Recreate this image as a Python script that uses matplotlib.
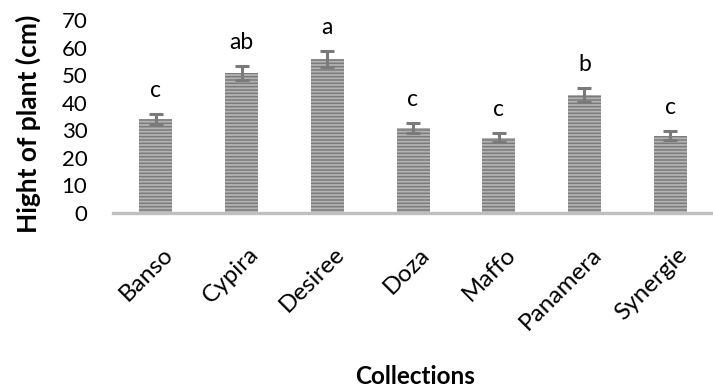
import matplotlib
matplotlib.use("Agg")
import matplotlib.pyplot as plt
import matplotlib.transforms as mtransforms
import numpy as np

plt.rcParams['font.family'] = ['Lato', 'DejaVu Sans']
plt.rcParams['hatch.linewidth'] = 1.3

collections = ["Banso", "Cypira", "Desiree", "Doza", "Maffo", "Panamera", "Synergie"]
height_cm = [34.1, 50.7, 55.8, 30.7, 27.3, 42.8, 28.0]
error_cm = [1.8, 2.5, 3.0, 1.8, 1.7, 2.4, 1.7]
letters = ["c", "ab", "a", "c", "c", "b", "c"]
yticks = [0, 10, 20, 30, 40, 50, 60, 70]

W, H = 713, 389
fig = plt.figure(figsize=(W / 100, H / 100), dpi=100)
ax = fig.add_axes([113 / W, (H - 213) / H, 1 - 113 / W, (213 - 20) / H])

x = np.arange(len(collections))
ax.bar(x, height_cm, width=0.385, color="#7b7b7b", edgecolor="#b3b3b3",
       hatch="-----", linewidth=0, zorder=2)
ax.errorbar(x, height_cm, yerr=error_cm, fmt="none", ecolor="#7a7a7a",
            elinewidth=2.2, capsize=4.8, capthick=2.2, zorder=3)

for xi, h, e, lab in zip(x, height_cm, error_cm, letters):
    ax.text(xi, h + e + 4.8, lab, ha="center", va="bottom", fontsize=16.5, color="black")

ax.set_xlim(-0.5, len(collections) - 0.5)
ax.set_ylim(0, 70)
ax.set_yticks(yticks)
ax.set_yticklabels([str(t) for t in yticks], fontsize=16)
ax.tick_params(axis="y", length=0, pad=18.5)
ax.set_xticks(x)
ax.set_xticklabels(collections, rotation=45, ha="right", va="top",
                   rotation_mode="anchor", fontsize=17.5)
ax.tick_params(axis="x", length=0, pad=22)
shift = mtransforms.ScaledTranslation(6 / 100, 0, fig.dpi_scale_trans)
for lbl in ax.get_xticklabels():
    lbl.set_transform(lbl.get_transform() + shift)

for side in ["top", "right", "left"]:
    ax.spines[side].set_visible(False)
ax.spines["bottom"].set_color("#bfbfbf")
ax.spines["bottom"].set_linewidth(2.4)

fig.text(28 / W, 1 - 124 / H, "Hight of plant (cm)", rotation=90, ha="center",
         va="center", fontsize=19, fontweight="bold")
fig.text(415 / W, 1 - 377 / H, "Collections", ha="center", va="center",
         fontsize=17.5, fontweight="bold")

fig.savefig("out.png", dpi=100)
